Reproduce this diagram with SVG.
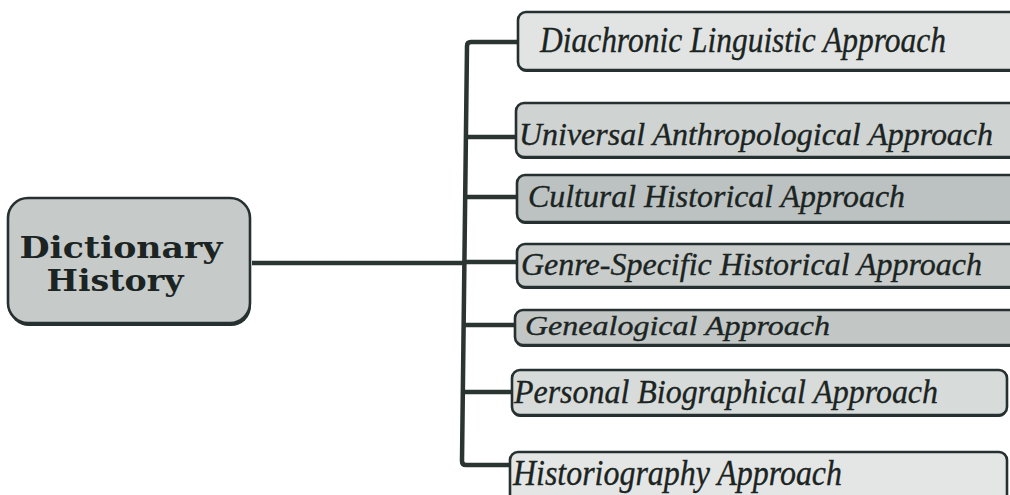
<svg xmlns="http://www.w3.org/2000/svg" width="1010" height="495" viewBox="0 0 1010 495">
  <style>
    .box { stroke: #273030; stroke-width: 2.6; }
    .shade { fill: #273030; }
    .lbl { font-family: "Liberation Serif", "Times New Roman", serif; font-style: italic; fill: #1b2422; stroke: #1b2422; stroke-width: 0.35; }
    .root { font-family: "DejaVu Serif", "Liberation Serif", serif; font-weight: bold; fill: #1b2422; text-anchor: middle; }
    .wire { fill: none; stroke: #2a3431; stroke-width: 4.5; stroke-linejoin: round; stroke-linecap: butt; }
  </style>

  <rect width="1010" height="495" fill="#ffffff"/>

  <!-- connectors: trunk from the root plus one branch per approach -->
  <g id="connectors">
    <path class="wire" d="M252,263 H465"/>
    <path class="wire" d="M518,42 H471 Q467,42 467,46 L462,461 Q462,465 466,465 H510"/>
    <path class="wire" d="M466,137 H516"/>
    <path class="wire" d="M465,197 H517"/>
    <path class="wire" d="M464,262 H517"/>
    <path class="wire" d="M464,325 H515"/>
    <path class="wire" d="M463,392 H512"/>
  </g>

  <!-- root node -->
  <g id="dictionary-history">
    <rect class="shade" x="9" y="200" width="242" height="126" rx="20"/>
    <rect class="box" x="8" y="198" width="242" height="125" rx="20" fill="#c6cac9"/>
    <text class="root" x="121" y="258" font-size="29" textLength="203" lengthAdjust="spacingAndGlyphs">Dictionary</text>
    <text class="root" x="115" y="291" font-size="29" textLength="137" lengthAdjust="spacingAndGlyphs">History</text>
  </g>

  <!-- approach nodes -->
  <g id="diachronic-linguistic">
    <rect class="shade" x="518" y="14" width="510" height="58" rx="8"/>
    <rect class="box" x="518" y="12" width="510" height="58" rx="8" fill="#e2e4e3"/>
    <text class="lbl" x="540" y="52" font-size="36" textLength="406" lengthAdjust="spacingAndGlyphs">Diachronic Linguistic Approach</text>
  </g>

  <g id="universal-anthropological">
    <rect class="shade" x="516" y="105" width="510" height="54" rx="8"/>
    <rect class="box" x="516" y="103" width="510" height="54" rx="8" fill="#cfd3d2"/>
    <text class="lbl" x="519" y="145" font-size="32" textLength="474" lengthAdjust="spacingAndGlyphs">Universal Anthropological Approach</text>
  </g>

  <g id="cultural-historical">
    <rect class="shade" x="517" y="177" width="510" height="47" rx="8"/>
    <rect class="box" x="517" y="175" width="510" height="47" rx="8" fill="#bcc2c1"/>
    <text class="lbl" x="528" y="207" font-size="31" textLength="377" lengthAdjust="spacingAndGlyphs">Cultural Historical Approach</text>
  </g>

  <g id="genre-specific-historical">
    <rect class="shade" x="517" y="246" width="510" height="43" rx="8"/>
    <rect class="box" x="517" y="244" width="510" height="43" rx="8" fill="#c8cccb"/>
    <text class="lbl" x="521" y="275" font-size="31" textLength="461" lengthAdjust="spacingAndGlyphs">Genre-Specific Historical Approach</text>
  </g>

  <g id="genealogical">
    <rect class="shade" x="515" y="312" width="510" height="35" rx="8"/>
    <rect class="box" x="515" y="310" width="510" height="35" rx="8" fill="#c2c7c6"/>
    <text class="lbl" x="525" y="335" font-size="28" textLength="305" lengthAdjust="spacingAndGlyphs">Genealogical Approach</text>
  </g>

  <g id="personal-biographical">
    <rect class="shade" x="512" y="372" width="495" height="45" rx="8"/>
    <rect class="box" x="512" y="370" width="495" height="45" rx="8" fill="#d7dbda"/>
    <text class="lbl" x="514" y="403" font-size="34" textLength="424" lengthAdjust="spacingAndGlyphs">Personal Biographical Approach</text>
  </g>

  <g id="historiography">
    <rect class="shade" x="510" y="454" width="497" height="52" rx="8"/>
    <rect class="box" x="510" y="452" width="497" height="52" rx="8" fill="#e4e6e5"/>
    <text class="lbl" x="513" y="485" font-size="36" textLength="329" lengthAdjust="spacingAndGlyphs">Historiography Approach</text>
  </g>
</svg>
